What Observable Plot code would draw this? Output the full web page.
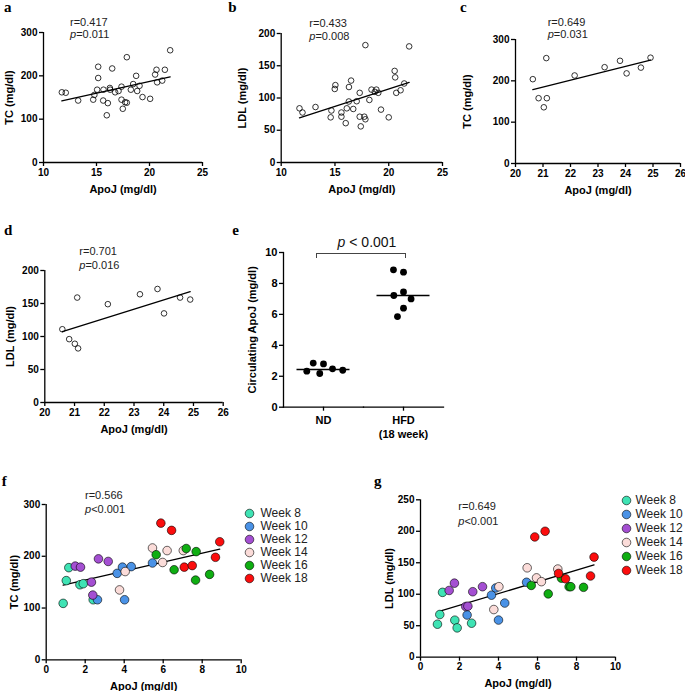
<!DOCTYPE html>
<html>
<head>
<meta charset="utf-8">
<script src="https://cdn.jsdelivr.net/npm/d3@7"></script>
<script src="https://cdn.jsdelivr.net/npm/@observablehq/plot@0.6"></script>
<style>
  html, body { margin: 0; padding: 0; background: #fff; }
  #root { position: relative; width: 685px; height: 691px; overflow: hidden; background: #fff;
          font-family: "Liberation Sans", Arial, Helvetica, sans-serif; }
  #root svg { position: absolute; max-width: none; }
  .letter { position: absolute; font-family: "Liberation Serif", "Times New Roman", serif; font-weight: bold;
            font-size: 15px; line-height: 15px; color: #000; }
  .ann { position: absolute; font-size: 11px; line-height: 10px; color: #222; white-space: nowrap; }
  .pval { position: absolute; font-size: 14px; line-height: 16px; color: #111; white-space: nowrap; transform: translateX(-50%); }
  .bracket { position: absolute; border: 1px solid #444; border-bottom: none; }
  g[aria-label="x-axis label"], g[aria-label="y-axis label"] { font-size: 11px; }
</style>
</head>
<body>
<div id="root"></div>
<script>
// ---------- data ----------
// panel a: ApoJ vs TC
const aApoJ = [11.73,12.1,13.27,14.69,14.8,15.16,15.16,15.06,15.66,15.63,15.97,16.07,16.26,16.29,16.48,16.76,17.08,17.36,17.36,17.48,17.7,17.86,17.86,18.24,18.46,18.74,18.84,19.06,19.34,20.06,20.53,20.66,20.72,21.2,21.45,21.95];
const aTC   = [162,161,143,145,156,221,195,168,168,143,109,137,172,168,217,162,165,175,145,124,139,138,243,168,181,200,165,177,151,147,203,214,185,189,214,259];
// panel b: ApoJ vs LDL
const bApoJ = [11.7,11.98,13.19,14.67,14.6,14.98,15.04,15.6,15.6,16.0,16.1,16.29,16.3,16.5,16.7,17.02,17.3,17.3,17.4,17.73,17.83,17.83,18.2,18.4,18.7,18.85,19.03,19.28,20.0,20.55,20.6,20.7,21.1,21.44,21.9];
const bLDL  = [84,77.5,86,80.6,70,114,120,77.5,71,61,84,94.6,117,127,83,95,108,71,56,71,67,182,97,113,109.6,113,108,82,70,142,132,108,112,122.5,180];
// panel c: ApoJ vs TC
const cApoJ = [20.63,20.84,21.12,21.14,21.03,22.15,23.24,23.8,24.04,24.56,24.91];
const cTC   = [204,158,255,158,136,213,233,248.5,218,232,256];
// panel d: ApoJ vs LDL
const dApoJ = [20.59,20.82,21.01,21.12,21.09,22.12,23.2,23.79,24.01,24.55,24.89];
const dLDL  = [111,96,89,82,159,149,164,172,135,159,156];
// panel e: circulating ApoJ by diet
const groups = ["ND", "HFD"];
const groupLabels = {"ND": "ND", "HFD": "HFD\n(18 week)"};
const ndApoJ  = [2.8,2.18,2.48,2.85,2.33,2.39];
const hfdApoJ = [8.73,8.88,7.45,7.22,7.0,6.4,5.86];
// panels f, g: by week
const weeks = ["Week 8","Week 10","Week 12","Week 14","Week 16","Week 18"];
const weekColors = ["#3fe3b4","#4a92e6","#a44fd2","#fbdcd9","#0fae12","#fb0d0d"];
const fApoJ = [
  [0.87,1.03,1.16,1.73,1.9,2.41],
  [2.63,3.64,3.91,4.36,4.02,5.45],
  [1.49,1.76,2.32,2.39,2.68,3.18],
  [3.76,4.05,5.45,5.97,6.2,7.03],
  [5.64,7.18,7.69,6.56,7.66,8.38],
  [5.88,6.43,7.08,7.49,8.68,8.9]
];
const fTC = [
  [109,153,178,145,147,116],
  [116,167,179,180,116,187],
  [181,179,150,125,195,190],
  [135,170.5,216,188,211,211],
  [203,215,209,174,154,165],
  [264,250,179,182,198,228]
];
const gApoJ = [
  [0.87,0.99,1.13,1.76,1.88,2.62],
  [2.39,3.64,3.86,4.0,4.32,5.44],
  [1.47,1.74,2.32,2.43,2.68,3.18],
  [3.76,4.02,5.47,5.95,6.2,7.04],
  [5.68,6.55,7.23,7.62,7.71,8.36],
  [5.86,6.39,7.08,7.44,8.72,8.9]
];
const gLDL = [
  [52.4,67.8,103,58.8,46.6,54],
  [67,98.5,110,59,86,119],
  [106,117.6,80.5,81,104,112],
  [75.7,112,142,126,120,140],
  [114,100.6,125.5,112,112,111],
  [191,200,133,124.5,129,159]
];
// tick labels
const ticks10_25 = [10,15,20,25];
const ticks20_26 = [20,21,22,23,24,25,26];
const ticks0_10 = [0,2,4,6,8,10];
const ticksTC = [0,100,200,300];
const ticksLDL200 = [0,50,100,150,200];
const ticksLDL250 = [0,50,100,150,200,250];

// ---------- helpers ----------
const root = document.getElementById("root");
const font = "\"Liberation Sans\", Arial, Helvetica, sans-serif";
const baseStyle = {fontFamily: font, fontSize: "10px", fontWeight: "bold", color: "#000", background: "transparent", overflow: "visible"};
const intFmt = d3.format("d");

function zip(xs, ys) { return xs.map((x, i) => ({x, y: ys[i]})); }
function zipWeeks(X, Y) {
  const out = [];
  weeks.forEach((w, k) => X[k].forEach((x, i) => out.push({week: w, x, y: Y[k][i]})));
  return out;
}
function place(el, left, top) { el.style.left = left + "px"; el.style.top = top + "px"; root.append(el); return el; }
function html(cls, content, left, top) {
  const d = document.createElement("div"); d.className = cls; d.innerHTML = content; return place(d, left, top);
}

function scatter(o) {
  return Plot.plot({
    width: o.w, height: o.h,
    marginLeft: o.mL, marginRight: o.mR, marginTop: o.mT, marginBottom: o.mB,
    style: baseStyle,
    x: {domain: o.xDomain},
    y: {domain: o.yDomain},
    color: {domain: weeks, range: weekColors},
    marks: [
      Plot.ruleX([o.xDomain[0]], {strokeWidth: 1.3}),
      Plot.ruleY([o.yDomain[0]], {strokeWidth: 1.3}),
      Plot.axisX({ticks: o.xTicks, tickFormat: intFmt, tickSize: 4, tickPadding: 2, strokeWidth: 1.3, label: o.xLabel,
                  labelAnchor: "center", labelArrow: "none", labelOffset: o.xLO}),
      Plot.axisY({ticks: o.yTicks, tickFormat: intFmt, tickSize: 4, tickPadding: 2, strokeWidth: 1.3, label: o.yLabel,
                  labelAnchor: "center", labelArrow: "none", labelOffset: o.yLO}),
      o.colored ? Plot.linearRegressionY(o.data, {x: "x", y: "y", stroke: "#000", strokeWidth: 1.3, ci: 0}) : null,
      o.colored
        ? Plot.dot(o.data, {x: "x", y: "y", r: 4.3, fill: "week", stroke: "#000", strokeWidth: 0.6})
        : Plot.dot(o.data, {x: "x", y: "y", r: 2.8, fill: "none", stroke: "#000", strokeWidth: 0.8}),
      o.colored ? null : Plot.linearRegressionY(o.data, {x: "x", y: "y", stroke: "#000", strokeWidth: 1.3, ci: 0})
    ]
  });
}

function legend(mL, mT, mB, h, dx) {
  return Plot.plot({
    width: 95, height: h, marginLeft: mL, marginRight: 0, marginTop: mT, marginBottom: mB,
    style: {...baseStyle, fontWeight: "normal"},
    x: {axis: null},
    y: {type: "point", domain: weeks, padding: 0, axis: null},
    color: {domain: weeks, range: weekColors},
    marks: [
      Plot.dot(weeks, {y: d => d, frameAnchor: "left", r: 4.3, fill: d => d, stroke: "#000", strokeWidth: 0.6}),
      Plot.text(weeks, {y: d => d, frameAnchor: "left", dx: dx, text: d => d, textAnchor: "start",
                        fontSize: 12, fill: "#222"})
    ]
  });
}

// ---------- panel a ----------
place(scatter({w: 230, h: 200, mL: 43, mR: 28, mT: 32, mB: 38,
  data: zip(aApoJ, aTC), xDomain: [10,25], yDomain: [0,300], xTicks: ticks10_25, yTicks: ticksTC,
  xLabel: "ApoJ (mg/dl)", yLabel: "TC (mg/dl)", xLO: 30, yLO: 38}), 0, 0);
// ---------- panel b ----------
place(scatter({w: 230, h: 200, mL: 50.7, mR: 18, mT: 33, mB: 38,
  data: zip(bApoJ, bLDL), xDomain: [10,25], yDomain: [0,200], xTicks: ticks10_25, yTicks: ticksLDL200,
  xLabel: "ApoJ (mg/dl)", yLabel: "LDL (mg/dl)", xLO: 30, yLO: 43}), 230, 0);
// ---------- panel c ----------
place(scatter({w: 225, h: 200, mL: 55, mR: 5, mT: 39, mB: 37,
  data: zip(cApoJ, cTC), xDomain: [20,26], yDomain: [0,300], xTicks: ticks20_26, yTicks: ticksTC,
  xLabel: "ApoJ (mg/dl)", yLabel: "TC (mg/dl)", xLO: 30, yLO: 52}), 460, 0);
// ---------- panel d ----------
place(scatter({w: 230, h: 215, mL: 44.3, mR: 7.3, mT: 50, mB: 33,
  data: zip(dApoJ, dLDL), xDomain: [20,26], yDomain: [0,200], xTicks: ticks20_26, yTicks: ticksLDL200,
  xLabel: "ApoJ (mg/dl)", yLabel: "LDL (mg/dl)", xLO: 30, yLO: 39}), 0, 220);

// ---------- panel e ----------
const eData = [
  ...ndApoJ.map(v => ({group: "ND", value: v})),
  ...hfdApoJ.map(v => ({group: "HFD", value: v}))
];
place(Plot.plot({
  width: 230, height: 220, marginLeft: 52, marginRight: 17, marginTop: 32, marginBottom: 33.3,
  style: baseStyle,
  fx: {domain: groups, padding: 0, label: null},
  y: {domain: [0,10]},
  marks: [
    Plot.frame({anchor: "left", facetAnchor: "left", strokeWidth: 1.3}),
    Plot.frame({anchor: "bottom", strokeWidth: 1.3}),
    Plot.axisY({ticks: ticks0_10, tickSize: 4, tickPadding: 2, strokeWidth: 1.3, fontSize: 11,
                label: "Circulating ApoJ (mg/dl)", labelAnchor: "center", labelArrow: "none", labelOffset: 35}),
    Plot.axisFx({anchor: "bottom", tickSize: 4, tickPadding: 3, strokeWidth: 1.3, fontSize: 11, lineHeight: 1.25,
                 label: null, tickFormat: d => groupLabels[d]}),
    Plot.ruleY(eData, Plot.groupZ({y: "median"}, {y: "value", fx: "group", insetLeft: 13.5, insetRight: 13.5, strokeWidth: 1.5})),
    Plot.dot(eData, Plot.dodgeX({anchor: "middle", padding: 3.5}, {y: "value", fx: "group", r: 3.4, fill: "#000"}))
  ]
}), 230, 220);
html("bracket", "", 316, 253).style.cssText += "width:88px;height:4px;";
html("pval", "<i>p</i> &lt; 0.001", 367, 233.5);

// ---------- panel f ----------
place(scatter({w: 250, h: 221, mL: 45.7, mR: 9.3, mT: 34, mB: 31.7, colored: true,
  data: zipWeeks(fApoJ, fTC), xDomain: [0,10], yDomain: [0,300], xTicks: ticks0_10, yTicks: ticksTC,
  xLabel: "ApoJ (mg/dl)", yLabel: "TC (mg/dl)", xLO: 30, yLO: 36}), 0, 470);
place(legend(9, 6, 6.3, 81, 11), 240, 505);

// ---------- panel g ----------
place(scatter({w: 250, h: 221, mL: 50, mR: 5, mT: 29.3, mB: 34.3, colored: true,
  data: zipWeeks(gApoJ, gLDL), xDomain: [0,10], yDomain: [0,250], xTicks: ticks0_10, yTicks: ticksLDL250,
  xLabel: "ApoJ (mg/dl)", yLabel: "LDL (mg/dl)", xLO: 30, yLO: 35}), 370, 470);
place(legend(11, 6.7, 7.3, 86, 9), 615, 492);

// ---------- annotations (top = centre - 5) ----------
html("ann", "r=0.417", 70, 17.2);   html("ann", "<i>p</i>=0.011", 70, 28.8);
html("ann", "r=0.433", 309.3, 17.8); html("ann", "<i>p</i>=0.008", 309.3, 30.5);
html("ann", "r=0.649", 547.7, 17.0); html("ann", "<i>p</i>=0.031", 547.7, 28.8);
html("ann", "r=0.701", 79.3, 246.2); html("ann", "<i>p</i>=0.016", 79.3, 259.8);
html("ann", "r=0.566", 85, 489.5);   html("ann", "<i>p</i>&lt;0.001", 85, 503.8);
html("ann", "r=0.649", 458.3, 501.2); html("ann", "<i>p</i>&lt;0.001", 458.3, 515.5);

// ---------- panel letters ----------
html("letter", "a", 4, 0);
html("letter", "b", 228.3, 0);
html("letter", "c", 460, 0);
html("letter", "d", 4, 223.4);
html("letter", "e", 232.3, 222.5);
html("letter", "f", 1.7, 474);
html("letter", "g", 374, 473.5);
</script>
</body>
</html>
